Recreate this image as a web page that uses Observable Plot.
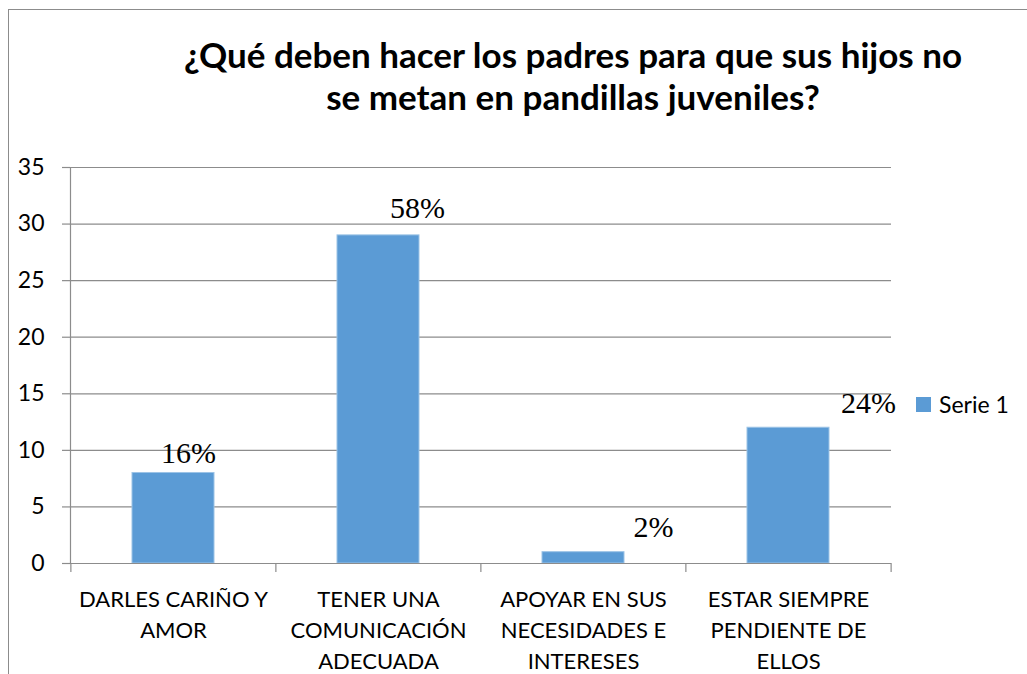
<!DOCTYPE html>
<html>
<head>
<meta charset="utf-8">
<script src="https://cdn.jsdelivr.net/npm/d3@7"></script>
<script src="https://cdn.jsdelivr.net/npm/@observablehq/plot@0.6"></script>
<style>
  html, body { margin: 0; padding: 0; background: #fff; overflow: hidden; }
  #wrap { position: relative; width: 1027px; height: 674px; }
  #frame { position: absolute; left: 8px; top: 9px; width: 1100px; height: 800px; border: 1.5px solid #8c8c8c; box-sizing: border-box; }
  #title { position: absolute; left: 0; width: 1146px; top: 33px; text-align: center; font-family: Lato, sans-serif; font-weight: 700; font-size: 35px; line-height: 42px; color: #000; }
  #legend { position: absolute; left: 916px; top: 390px; font-family: Lato, sans-serif; font-size: 23px; color: #000; display: flex; align-items: center; }
  #legend .sw { width: 15px; height: 15px; background: #5b9bd5; margin-right: 8px; }
  #chart { position: absolute; left: 0; top: 0; }
</style>
</head>
<body>
<div id="wrap">
  <div id="frame"></div>
  <div id="chart"></div>
  <div id="title">¿Qué deben hacer los padres para que sus hijos no<br>se metan en pandillas juveniles?</div>
  <div id="legend"><div class="sw"></div><span>Serie 1</span></div>
</div>
<script>
const categories = ["DARLES CARIÑO Y\nAMOR", "TENER UNA\nCOMUNICACIÓN\nADECUADA", "APOYAR EN SUS\nNECESIDADES E\nINTERESES", "ESTAR SIEMPRE\nPENDIENTE DE\nELLOS"];
const values = [8, 29, 1, 12];
const percentLabels = ["16%", "58%", "2%", "24%"];
const yTicks = [0, 5, 10, 15, 20, 25, 30, 35];

const data = categories.map((c, i) => ({cat: c, value: values[i], label: percentLabels[i]}));

const W = 1027, H = 674, mL = 70, mR = 136, mT = 167, mB = 111;
const step = (W - mL - mR) / categories.length;
const gridColor = "#8c8c8c";

// label offsets (hand-placed in the original)
const labelDx = [15, 39, 70, 80];
const labelDy = [-10, -17, -15, -15];

const plot = Plot.plot({
  width: W, height: H,
  marginLeft: mL, marginRight: mR, marginTop: mT, marginBottom: mB,
  style: {background: "transparent", overflow: "visible"},
  x: {domain: categories, paddingInner: 0.6, paddingOuter: 0.3, label: null},
  y: {domain: [0, 35], label: null},
  marks: [
    Plot.gridY(yTicks, {stroke: gridColor, strokeOpacity: 1, strokeWidth: 1.2}),
    Plot.axisY(yTicks, {tickSize: 8, tickPadding: 18, stroke: gridColor, strokeWidth: 1.2, fontSize: 23, fontFamily: "Lato, sans-serif", fill: "#000", label: null}),
    Plot.frame({anchor: "left", stroke: gridColor, strokeWidth: 1.2}),
    Plot.barY(data, {x: "cat", y: "value", fill: "#5b9bd5", stroke: "#9cc3e6", strokeWidth: 1}),
    Plot.ruleY([0], {stroke: gridColor, strokeWidth: 1.2}),
    Plot.ruleX(categories, {x: d => d, y1: 0, y2: 0, stroke: gridColor, strokeWidth: 1.2, dx: -step / 2, insetBottom: -9}),
    Plot.ruleX(categories.slice(-1), {x: d => d, y1: 0, y2: 0, stroke: gridColor, strokeWidth: 1.2, dx: step / 2, insetBottom: -9}),
    Plot.axisX({tickSize: 0, tickPadding: 22, fontSize: 22, fontFamily: "Lato, sans-serif", fill: "#000", lineHeight: 1.4, lineAnchor: "top", label: null}),
    ...data.map((d, i) => Plot.text([d], {x: "cat", y: "value", text: "label", dx: labelDx[i], dy: labelDy[i], lineAnchor: "bottom", fontSize: 30, fontFamily: "'Liberation Serif', 'Times New Roman', serif", fill: "#000"}))
  ]
});
document.getElementById("chart").appendChild(plot);
</script>
</body>
</html>
